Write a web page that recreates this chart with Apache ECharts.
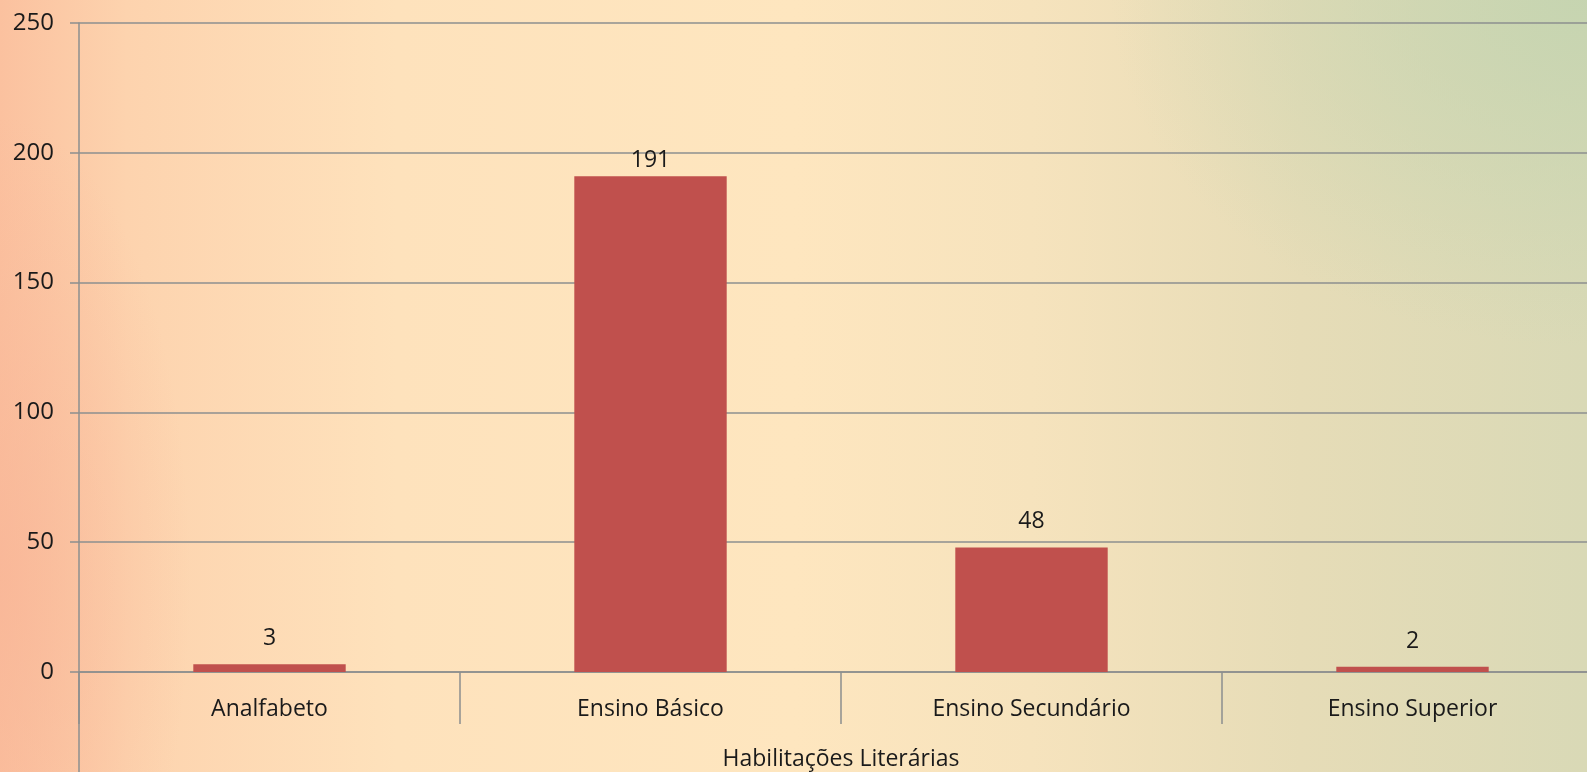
<!DOCTYPE html>
<html>
<head>
    <title>Habilitações Literárias</title>
    <meta charset="utf-8" />
    <script src="https://cdn.jsdelivr.net/npm/echarts@6/dist/echarts.min.js"></script>
    <style type="text/css">
        html,
        body {
            width: 100%;
            height: 100%;
            margin: 0;
            overflow: hidden;
        }

        body {
            background:
                radial-gradient(ellipse 30% 45% at 100% 0%, rgba(196, 212, 176, 0.9), rgba(196, 212, 176, 0)),
                radial-gradient(ellipse 12% 60% at 0% 75%, rgba(248, 180, 150, 0.7), rgba(248, 180, 150, 0)),
                linear-gradient(90deg, #fbc19f 0%, #fdd3ae 8%, #fee2bc 25%, #fee6bf 50%, #f6e3bd 65%, #e6dcb7 82%, #d9d9b6 100%);
        }

        #main {
            width: 1587px;
            height: 772px;
        }
    </style>
</head>

<body>
    <div id="main"></div>
    <script>
        var categories = ['Analfabeto', 'Ensino Básico', 'Ensino Secundário', 'Ensino Superior'];
        var values = [3, 191, 48, 2];
        var yTicks = [0, 50, 100, 150, 200, 250];

        var chart = echarts.init(document.getElementById('main'));
        var font = '"Open Sans", "Noto Sans", sans-serif';
        var gray = '#8c8f8f';

        var option = {
            backgroundColor: 'transparent',
            animation: false,
            grid: {
                left: 79,
                right: -16,
                top: 23,
                bottom: 100,
                containLabel: false,
                outerBoundsMode: 'none'
            },
            xAxis: {
                type: 'category',
                data: categories,
                name: 'Habilitações Literárias',
                nameLocation: 'middle',
                nameGap: 76,
                nameTextStyle: { color: '#1a1a1a', fontSize: 23, fontFamily: font },
                axisLine: { lineStyle: { color: gray, width: 1.5 } },
                axisTick: { show: true, interval: 0, length: 52, lineStyle: { color: gray, width: 1.5 } },
                axisLabel: { color: '#1a1a1a', fontSize: 23, fontFamily: font, margin: 26 }
            },
            yAxis: {
                type: 'value',
                min: yTicks[0],
                max: yTicks[yTicks.length - 1],
                interval: 50,
                axisLine: { show: true, lineStyle: { color: gray, width: 1.5 } },
                axisTick: { show: true, length: 9, lineStyle: { color: gray, width: 1.5 } },
                axisLabel: { color: '#1a1a1a', fontSize: 24, fontFamily: font, margin: 25 },
                splitLine: { lineStyle: { color: gray, width: 1.5 } }
            },
            graphic: [{
                type: 'line',
                shape: { x1: 79, y1: 672, x2: 79, y2: 772 },
                style: { stroke: gray, lineWidth: 1.5 }
            }],
            series: [{
                type: 'bar',
                barWidth: '40%',
                data: values.map(function (v, i) {
                    return i === 1 ? { value: v, label: { distance: 4 } } : v;
                }),
                itemStyle: { color: '#c0504d' },
                label: {
                    show: true,
                    position: 'top',
                    distance: 14,
                    color: '#1a1a1a',
                    fontSize: 23,
                    fontFamily: font
                }
            }]
        };

        chart.setOption(option);
    </script>
</body>
</html>
